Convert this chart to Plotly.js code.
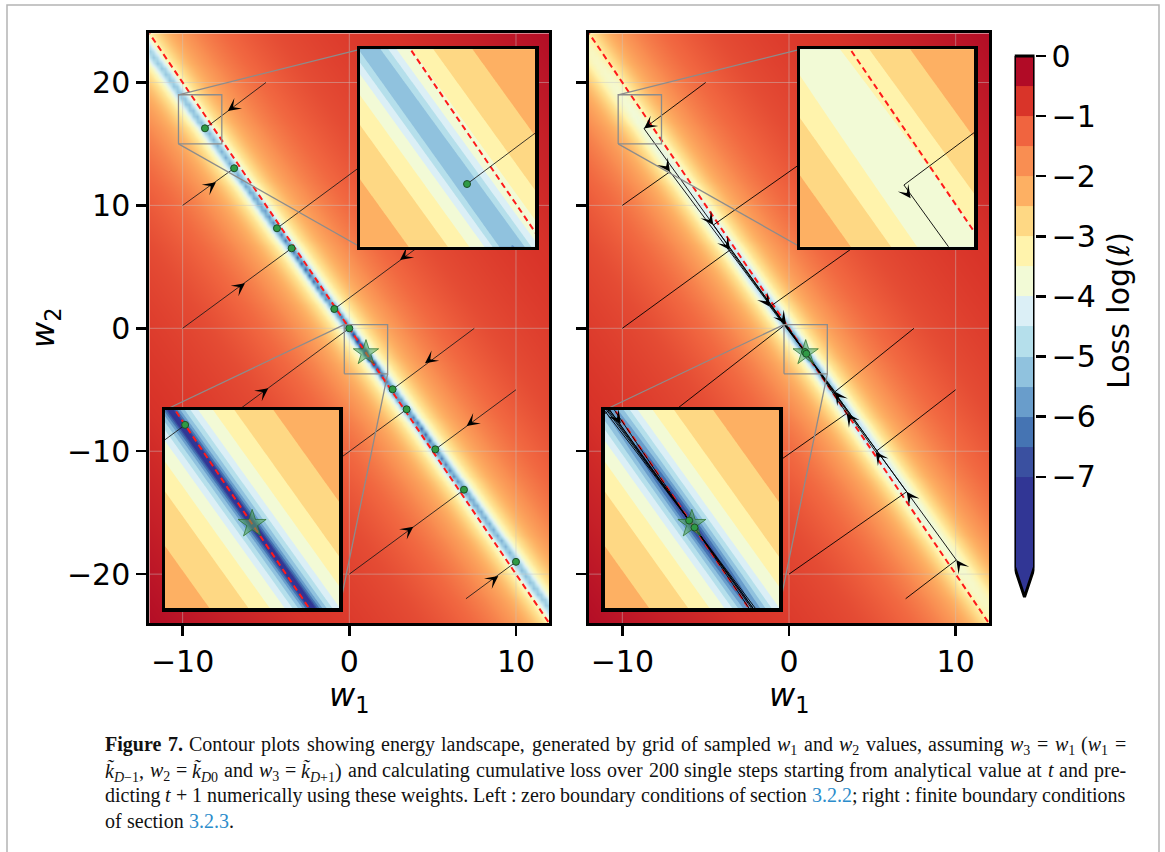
<!DOCTYPE html>
<html><head><meta charset="utf-8">
<script src="https://cdn.plot.ly/plotly-3.0.1.min.js"></script>
<style>html,body{margin:0;padding:0;background:#fff;}#plot{width:1165px;height:852px;}</style>
</head><body><div id="plot"></div>
<script>
// ---------------- values ----------------
const xTicks = [-10, 0, 10];
const xTickText = ['−10', '0', '10'];
const yTicks = [-20, -10, 0, 10, 20];
const yTickText = ['−20', '−10', '0', '10', '20'];
const cbTicks = [0, -1, -2, -3, -4, -5, -6, -7];
const cbTickText = ['0', '−1', '−2', '−3', '−4', '−5', '−6', '−7'];
// colour-bar band edges (bottom to top) and band colours (bottom to top)
const bandEdges = [-8.5, -7, -6.5, -6, -5.5, -5, -4.5, -4, -3.5, -3, -2.5, -2, -1.5, -1, -0.5, 0];
const bandColors = ['#313695', '#3a50a0', '#4574b3', '#699dcb', '#90c2de', '#b5dfeb', '#dbeff6', '#f2fad6',
                    '#fff3ac', '#fed884', '#fdb063', '#f98e52', '#f0643f', '#d93429', '#b10b26'];
// analytical weights (star) and the valley of the landscape
const star = [1, -2];
const valleySlope = [-1.89];
// log-loss across the valley: offset in w2 from the valley floor -> log(loss)
const offsetTable = [0.11, 0.2, 0.3, 0.45, 0.6, 0.78, 1.2, 1.8, 2.9, 4.5, 6.75, 10, 15.8, 22, 29.4, 38, 48];
const lossTable   = [-6.8, -6.0, -5.4, -4.85, -4.4, -4.0, -3.5, -3.0, -2.5, -2.05, -1.65, -1.3, -1.0, -0.85, -0.72, -0.5, -0.25];
// log-loss of the valley floor along w1
const floorW1    = [-12, -9, -6, -3, -1, 0, 1, 2, 3, 5, 8, 12];
const floorLeft  = [-5.1, -5.35, -5.8, -6.5, -7.3, -7.8, -9.0, -7.8, -7.3, -6.3, -5.7, -5.1];
const floorRight = [-3.5, -3.8, -4.1, -4.6, -5.2, -5.8, -7.0, -5.8, -5.2, -4.5, -3.9, -3.5];
// optimisation runs: starting weights
const startW1 = [-5, -10, 5, -10, 10, -10, 7.5, -5, 10, 0, 7];
const startW2 = [20, 10, 17.5, 0, 12.5, -10, 0, -15, -5, -20, -22];
// left panel: converged weights
const leftEndW1 = [-8.66, -6.91, -4.34, -3.46, -0.9, 0.0, 2.6, 3.44, 5.16, 6.88, 10.0];
const leftEndW2 = [16.27, 13.02, 8.14, 6.51, 1.57, 0.0, -4.96, -6.59, -9.85, -13.13, -19.0];
// left panel arrow positions and sense (+1 up-right, -1 down-left)
const leftArrowW1 = [-7.29, -8.0, -6.26, 3.04, -4.86, 4.54, 7.04, 3.84, 8.94];
const leftArrowW2 = [17.68, 11.88, 3.66, 5.56, -4.88, -2.85, -7.95, -16.14, -20.15];
const leftArrowSense = [-1, 1, 1, -1, 1, -1, -1, 1, 1];
// right panel: where each run reaches the valley, then slides to the end point
const rightTurnW1 = [-8.7, -7.14, -4.54, -3.54, -1.14, -0.18, 2.76, 3.46, 5.2, 7.06, 10.04];
const rightTurnW2 = [16.25, 12.74, 8.4, 6.37, 1.76, 0.35, -5.16, -6.92, -10.04, -13.3, -18.85];
const rightEndW1 = [0.96, 1.04];
const rightEndW2 = [-1.93, -2.07];
// inset windows
const inset1W1 = [-10.25, -7.65], inset1W2 = [15, 19];
const inset2W1 = [-0.3, 2.3],     inset2W2 = [-3.7, 0.3];
// caption, word by word (lines 1-3 justified)
const LINK = c => '<span style="color:#2b8ccb">' + c + '</span>';
const captionWords = [
 ['<b>Figure</b>', '<b>7.</b>', 'Contour', 'plots', 'showing', 'energy', 'landscape,', 'generated', 'by', 'grid', 'of', 'sampled',
  '<i>w</i><sub>1</sub>', 'and', '<i>w</i><sub>2</sub>', 'values,', 'assuming', '<i>w</i><sub>3</sub>', '=', '<i>w</i><sub>1</sub>', '(<i>w</i><sub>1</sub>', '='],
 ['<i>k̃</i><sub><i>D</i>−1</sub>,', '<i>w</i><sub>2</sub>', '=', '<i>k̃</i><sub><i>D</i>0</sub>', 'and', '<i>w</i><sub>3</sub>', '=',
  '<i>k̃</i><sub><i>D</i>+1</sub>)', 'and', 'calculating', 'cumulative', 'loss', 'over', '200', 'single', 'steps', 'starting', 'from',
  'analytical', 'value', 'at', '<i>t</i>', 'and', 'pre-'],
 ['dicting', '<i>t</i>', '+', '1', 'numerically', 'using', 'these', 'weights.', 'Left', ':', 'zero', 'boundary', 'conditions', 'of',
  'section', LINK('3.2.2') + ';', 'right', ':', 'finite', 'boundary', 'conditions'],
 ['of', 'section', LINK('3.2.3') + '.']
];

// ---------------- geometry ----------------
const W = 1165, H = 852;
const px = v => v / W, py = v => 1 - v / H;
const mainY = [py(623.3), py(33.3)];
const leftX = [px(149.3), px(549.3)], rightX = [px(589), px(989)];
const ins1Y = [py(246.7), py(49.3)], ins2Y = [py(608.3), py(410)];
const insL1X = [px(360), px(535)], insL2X = [px(165), px(339.3)];
const insR1X = [px(800), px(974.3)], insR2X = [px(604.7), px(779)];
const xRange = [-12, 12], yRange = [-24, 24];
const capLeft = 105, capRight = 1126, capTop = 733, capStep = 25.6;

// ---------------- landscape ----------------
const lt = offsetTable.map(Math.log10);
function profile(d) {
  const l = Math.log10(Math.max(Math.abs(d), 1e-6));
  if (l <= lt[0]) { const s = (lossTable[1] - lossTable[0]) / (lt[1] - lt[0]); return lossTable[0] + s * (l - lt[0]); }
  for (let i = 1; i < lt.length; i++) {
    if (l <= lt[i]) { const t = (l - lt[i-1]) / (lt[i] - lt[i-1]); return lossTable[i-1] + t * (lossTable[i] - lossTable[i-1]); }
  }
  return lossTable[lossTable.length - 1];
}
function floorAt(w1, tab) {
  if (w1 <= floorW1[0]) return tab[0];
  for (let i = 1; i < floorW1.length; i++) {
    if (w1 <= floorW1[i]) { const t = (w1 - floorW1[i-1]) / (floorW1[i] - floorW1[i-1]); return tab[i-1] + t * (tab[i] - tab[i-1]); }
  }
  return tab[tab.length - 1];
}
function field(w1, w2, tab) {
  const d = w2 - (star[1] + valleySlope[0] * (w1 - star[0]));
  return Math.log10(Math.pow(10, profile(d)) + Math.pow(10, floorAt(w1, tab)));
}
function grid(xr, yr, nx, ny, tab) {
  const xs = [], ys = [], z = [];
  for (let i = 0; i < nx; i++) xs.push(xr[0] + (xr[1] - xr[0]) * i / (nx - 1));
  for (let j = 0; j < ny; j++) ys.push(yr[0] + (yr[1] - yr[0]) * j / (ny - 1));
  for (let j = 0; j < ny; j++) { const row = []; for (let i = 0; i < nx; i++) row.push(field(xs[i], ys[j], tab)); z.push(row); }
  return {xs, ys, z};
}

// smooth colour scale for the main panels (colours at band centres)
const zMin = -8.5, zMax = 0;
const smoothScale = [[0, bandColors[0]], [(-7.25 - zMin) / (zMax - zMin), bandColors[0]]];
for (let k = 0; k < 14; k++) smoothScale.push([(-6.75 + 0.5 * k - zMin) / (zMax - zMin), bandColors[k + 1]]);
smoothScale.push([1, '#a50026']);
// discrete scale for contour fills: stops k/14
const stepScale = bandColors.map((c, k) => [k / 14, c]);

const traces = [];
function axn(n) { return n === 1 ? ['x', 'y'] : ['x' + n, 'y' + n]; }

function addPanelContent(n, kind, isInset) {
  const [xa, ya] = axn(n);
  traces.push({type: 'scatter', mode: 'lines', x: [-12.5, 12.5], y: [25, -25], xaxis: xa, yaxis: ya,
    line: {color: '#ff1a1a', width: 2, dash: '6px,4px'}, hoverinfo: 'skip'});
  const tx = [], ty = [];
  for (let i = 0; i < startW1.length; i++) {
    if (kind === 'left') { tx.push(startW1[i], leftEndW1[i], null); ty.push(startW2[i], leftEndW2[i], null); }
    else {
      const e = rightTurnW1[i] < star[0] ? 0 : 1;
      tx.push(startW1[i], rightTurnW1[i], rightEndW1[e], null); ty.push(startW2[i], rightTurnW2[i], rightEndW2[e], null);
    }
  }
  traces.push({type: 'scatter', mode: 'lines', x: tx, y: ty, xaxis: xa, yaxis: ya,
    line: {color: kind === 'left' ? 'rgba(25,25,25,0.85)' : 'rgba(0,0,0,0.9)', width: 1}, hoverinfo: 'skip'});
  traces.push({type: 'scatter', mode: 'markers', x: [star[0]], y: [star[1]], xaxis: xa, yaxis: ya,
    marker: {symbol: 'star', size: isInset ? 21 : 19, color: 'rgba(90,170,90,0.55)', line: {color: 'rgba(40,110,40,0.7)', width: 1}}, hoverinfo: 'skip'});
  const dx = kind === 'left' ? leftEndW1 : rightEndW1, dy = kind === 'left' ? leftEndW2 : rightEndW2;
  traces.push({type: 'scatter', mode: 'markers', x: dx, y: dy, xaxis: xa, yaxis: ya,
    marker: {symbol: 'circle', size: 7, color: '#2f9a45', line: {color: '#1d4f27', width: 1}}, hoverinfo: 'skip'});
}

// ---- main panels ----
[['left', 1, floorLeft], ['right', 2, floorRight]].forEach(([kind, n, tab]) => {
  const [xa, ya] = axn(n);
  const g = grid(xRange, yRange, 101, 101, tab);
  traces.push({type: 'heatmap', x: g.xs, y: g.ys, z: g.z, xaxis: xa, yaxis: ya, zmin: zMin, zmax: zMax,
    colorscale: smoothScale, zsmooth: 'best', showscale: false, hoverinfo: 'skip'});
  const gx = [], gy = [];
  xTicks.forEach(t => { gx.push(t, t, null); gy.push(-24, 24, null); });
  yTicks.forEach(t => { gx.push(-12, 12, null); gy.push(t, t, null); });
  traces.push({type: 'scatter', mode: 'lines', x: gx, y: gy, xaxis: xa, yaxis: ya,
    line: {color: 'rgba(200,200,200,0.45)', width: 1}, hoverinfo: 'skip'});
  addPanelContent(n, kind, false);
});

// ---- inset marks + connectors on the main panels ----
function dataFromPaperX(p, dom) { return xRange[0] + (p - dom[0]) / (dom[1] - dom[0]) * (xRange[1] - xRange[0]); }
function dataFromPaperY(p) { return yRange[0] + (p - mainY[0]) / (mainY[1] - mainY[0]) * (yRange[1] - yRange[0]); }
[[1, leftX, insL1X, insL2X], [2, rightX, insR1X, insR2X]].forEach(([n, dom, i1x, i2x]) => {
  const [xa, ya] = axn(n);
  const bx = [], by = [];
  [[inset1W1, inset1W2], [inset2W1, inset2W2]].forEach(([a, b]) => {
    bx.push(a[0], a[1], a[1], a[0], a[0], null); by.push(b[0], b[0], b[1], b[1], b[0], null);
  });
  bx.push(inset1W1[0], dataFromPaperX(i1x[0], dom), null, inset1W1[0], dataFromPaperX(i1x[0], dom), null);
  by.push(inset1W2[1], dataFromPaperY(ins1Y[1]), null, inset1W2[0], dataFromPaperY(ins1Y[0]), null);
  bx.push(inset2W1[0], dataFromPaperX(i2x[0], dom), null, inset2W1[1], dataFromPaperX(i2x[1], dom), null);
  by.push(inset2W2[1], dataFromPaperY(ins2Y[1]), null, inset2W2[0], dataFromPaperY(ins2Y[0]), null);
  traces.push({type: 'scatter', mode: 'lines', x: bx, y: by, xaxis: xa, yaxis: ya,
    line: {color: '#8c8c8c', width: 1.3}, hoverinfo: 'skip'});
});

// ---- insets ----
const insetDefs = [
  [3, 'left', floorLeft, inset1W1, inset1W2],
  [4, 'left', floorLeft, inset2W1, inset2W2],
  [5, 'right', floorRight, inset1W1, inset1W2],
  [6, 'right', floorRight, inset2W1, inset2W2]
];
insetDefs.forEach(([n, kind, tab, xr, yr]) => {
  const [xa, ya] = axn(n);
  const g = grid([xr[0] - 0.05, xr[1] + 0.05], [yr[0] - 0.1, yr[1] + 0.1], 271, 211, tab);
  traces.push({type: 'contour', x: g.xs, y: g.ys, z: g.z, xaxis: xa, yaxis: ya,
    autocontour: false, contours: {start: -7, end: -0.5, size: 0.5, coloring: 'fill', showlines: false},
    line: {width: 0}, colorscale: stepScale, showscale: false, hoverinfo: 'skip'});
  addPanelContent(n, kind, true);
});

// ---- colour bar ----
traces.push({type: 'heatmap', x: [0, 1], y: bandEdges, z: bandColors.map((c, k) => [k]), xaxis: 'x7', yaxis: 'y7',
  zmin: 0, zmax: 14, colorscale: stepScale, showscale: false, hoverinfo: 'skip'});
traces.push({type: 'scatter', mode: 'lines', x: [0, 1, 0.5, 0], y: [-8.5, -8.5, -9, -8.5], fill: 'toself',
  fillcolor: bandColors[0], line: {width: 0}, xaxis: 'x7', yaxis: 'y7', hoverinfo: 'skip'});
traces.push({type: 'scatter', mode: 'lines', x: [0, 1, 1, 0.5, 0, 0], y: [0, 0, -8.5, -9, -8.5, 0],
  line: {color: 'black', width: 3}, xaxis: 'x7', yaxis: 'y7', cliponaxis: false, hoverinfo: 'skip'});

// ---------------- annotations ----------------
const annotations = [];
const pxPerUnitMain = [400 / 24, 590 / 48];
const pxPerUnitInset = [174.5 / 2.6, 198 / 4];
function arrow(n, x, y, dx, dy, scale) {
  const [xa, ya] = axn(n);
  const len = Math.hypot(dx * scale[0], dy * scale[1]);
  const back = 7 / len;
  annotations.push({xref: xa, yref: ya, axref: xa, ayref: ya, x: x, y: y, ax: x - dx * back, ay: y - dy * back,
    showarrow: true, arrowhead: 3, arrowsize: 1.8, arrowwidth: 1.2, arrowcolor: 'black', text: '', standoff: 0});
}
leftArrowW1.forEach((x, i) => arrow(1, x, leftArrowW2[i], leftArrowSense[i], leftArrowSense[i], pxPerUnitMain));
rightTurnW1.forEach((x, i) => {
  if (i === 0) arrow(2, x, rightTurnW2[i], -1, -1, pxPerUnitMain);
  else if (x < star[0]) arrow(2, x, rightTurnW2[i], 1, valleySlope[0], pxPerUnitMain);
  else arrow(2, x, rightTurnW2[i], -1, -valleySlope[0], pxPerUnitMain);
});
arrow(5, -8.6, 15.98, 1, valleySlope[0], pxPerUnitInset);
arrow(6, -0.06, 0.03, 1, valleySlope[0], pxPerUnitInset);

const axFont = {family: 'DejaVu Sans', size: 30, color: 'black'};
const labFont = {family: 'DejaVu Sans', size: 32, color: 'black'};
annotations.push({xref: 'paper', yref: 'paper', x: px(349.3), y: py(697), text: '<i>w</i><sub>1</sub>', showarrow: false, font: labFont, xanchor: 'center', yanchor: 'middle'});
annotations.push({xref: 'paper', yref: 'paper', x: px(789), y: py(697), text: '<i>w</i><sub>1</sub>', showarrow: false, font: labFont, xanchor: 'center', yanchor: 'middle'});
annotations.push({xref: 'paper', yref: 'paper', x: px(45), y: py(328), text: '<i>w</i><sub>2</sub>', textangle: -90, showarrow: false, font: labFont, xanchor: 'center', yanchor: 'middle'});
annotations.push({xref: 'paper', yref: 'paper', x: px(1118), y: py(311), text: 'Loss log(<i>ℓ</i>)', textangle: -90, showarrow: false, font: axFont, xanchor: 'center', yanchor: 'middle'});
const capIdx = [];
captionWords.forEach((words, li) => {
  const idx = [];
  words.forEach(w => {
    idx.push(annotations.length);
    annotations.push({xref: 'paper', yref: 'paper', x: px(capLeft), y: py(capTop + capStep * li), text: w, showarrow: false,
      xanchor: 'left', yanchor: 'top', align: 'left', borderpad: 0, borderwidth: 0,
      font: {family: 'Liberation Serif', size: 20, color: '#111'}});
  });
  capIdx.push(idx);
});

// ---------------- layout ----------------
const mainAxis = {showgrid: false, zeroline: false, showline: true, mirror: true, linecolor: 'black', linewidth: 3,
  ticks: 'outside', ticklen: 10, tickwidth: 2.5, tickcolor: 'black', tickfont: axFont, fixedrange: true};
const insetAxis = {showgrid: false, zeroline: false, showline: true, mirror: true, linecolor: 'black', linewidth: 3.5,
  ticks: '', showticklabels: false, fixedrange: true};
const layout = {
  width: W, height: H, margin: {l: 0, r: 0, t: 0, b: 0}, paper_bgcolor: 'white', plot_bgcolor: 'white', showlegend: false,
  xaxis:  Object.assign({}, mainAxis, {domain: leftX, range: xRange, tickvals: xTicks, ticktext: xTickText, anchor: 'y'}),
  yaxis:  Object.assign({}, mainAxis, {domain: mainY, range: yRange, tickvals: yTicks, ticktext: yTickText, anchor: 'x'}),
  xaxis2: Object.assign({}, mainAxis, {domain: rightX, range: xRange, tickvals: xTicks, ticktext: xTickText, anchor: 'y2'}),
  yaxis2: Object.assign({}, mainAxis, {domain: mainY, range: yRange, tickvals: yTicks, showticklabels: false, anchor: 'x2'}),
  xaxis3: Object.assign({}, insetAxis, {domain: insL1X, range: inset1W1, anchor: 'y3'}),
  yaxis3: Object.assign({}, insetAxis, {domain: ins1Y, range: inset1W2, anchor: 'x3'}),
  xaxis4: Object.assign({}, insetAxis, {domain: insL2X, range: inset2W1, anchor: 'y4'}),
  yaxis4: Object.assign({}, insetAxis, {domain: ins2Y, range: inset2W2, anchor: 'x4'}),
  xaxis5: Object.assign({}, insetAxis, {domain: insR1X, range: inset1W1, anchor: 'y5'}),
  yaxis5: Object.assign({}, insetAxis, {domain: ins1Y, range: inset1W2, anchor: 'x5'}),
  xaxis6: Object.assign({}, insetAxis, {domain: insR2X, range: inset2W1, anchor: 'y6'}),
  yaxis6: Object.assign({}, insetAxis, {domain: ins2Y, range: inset2W2, anchor: 'x6'}),
  xaxis7: {domain: [px(1014.5), px(1034.5)], range: [0, 1], visible: false, fixedrange: true, anchor: 'y7'},
  yaxis7: {domain: [py(600), py(53)], range: [-9.05, 0.05], anchor: 'x7', side: 'right', showgrid: false, zeroline: false,
    showline: false, ticks: 'outside', ticklen: 10, tickwidth: 2.5, tickcolor: 'black', tickvals: cbTicks, ticktext: cbTickText,
    tickfont: axFont, fixedrange: true},
  annotations: annotations,
  shapes: [{type: 'rect', xref: 'paper', yref: 'paper', x0: px(7), x1: px(1159), y0: -0.05, y1: py(5),
    line: {color: '#b4b4b4', width: 1.5}, fillcolor: 'rgba(0,0,0,0)', layer: 'below'}]
};
Plotly.newPlot('plot', traces, layout, {staticPlot: true}).then(gd => {
  // justify the caption: measure each word, spread lines 1-3 to the full width
  const upd = {};
  capIdx.forEach((idx, li) => {
    const widths = idx.map(k => {
      const el = gd.querySelector('.annotation[data-index="' + k + '"] .annotation-text');
      return el ? el.getBBox().width : 0;
    });
    const total = widths.reduce((a, b) => a + b, 0);
    const gap = li < 3 ? (capRight - capLeft - total) / (idx.length - 1) : 5;
    let x = capLeft;
    idx.forEach((k, j) => { upd['annotations[' + k + '].x'] = px(x); x += widths[j] + gap; });
  });
  return Plotly.relayout(gd, upd);
});
</script></body></html>
